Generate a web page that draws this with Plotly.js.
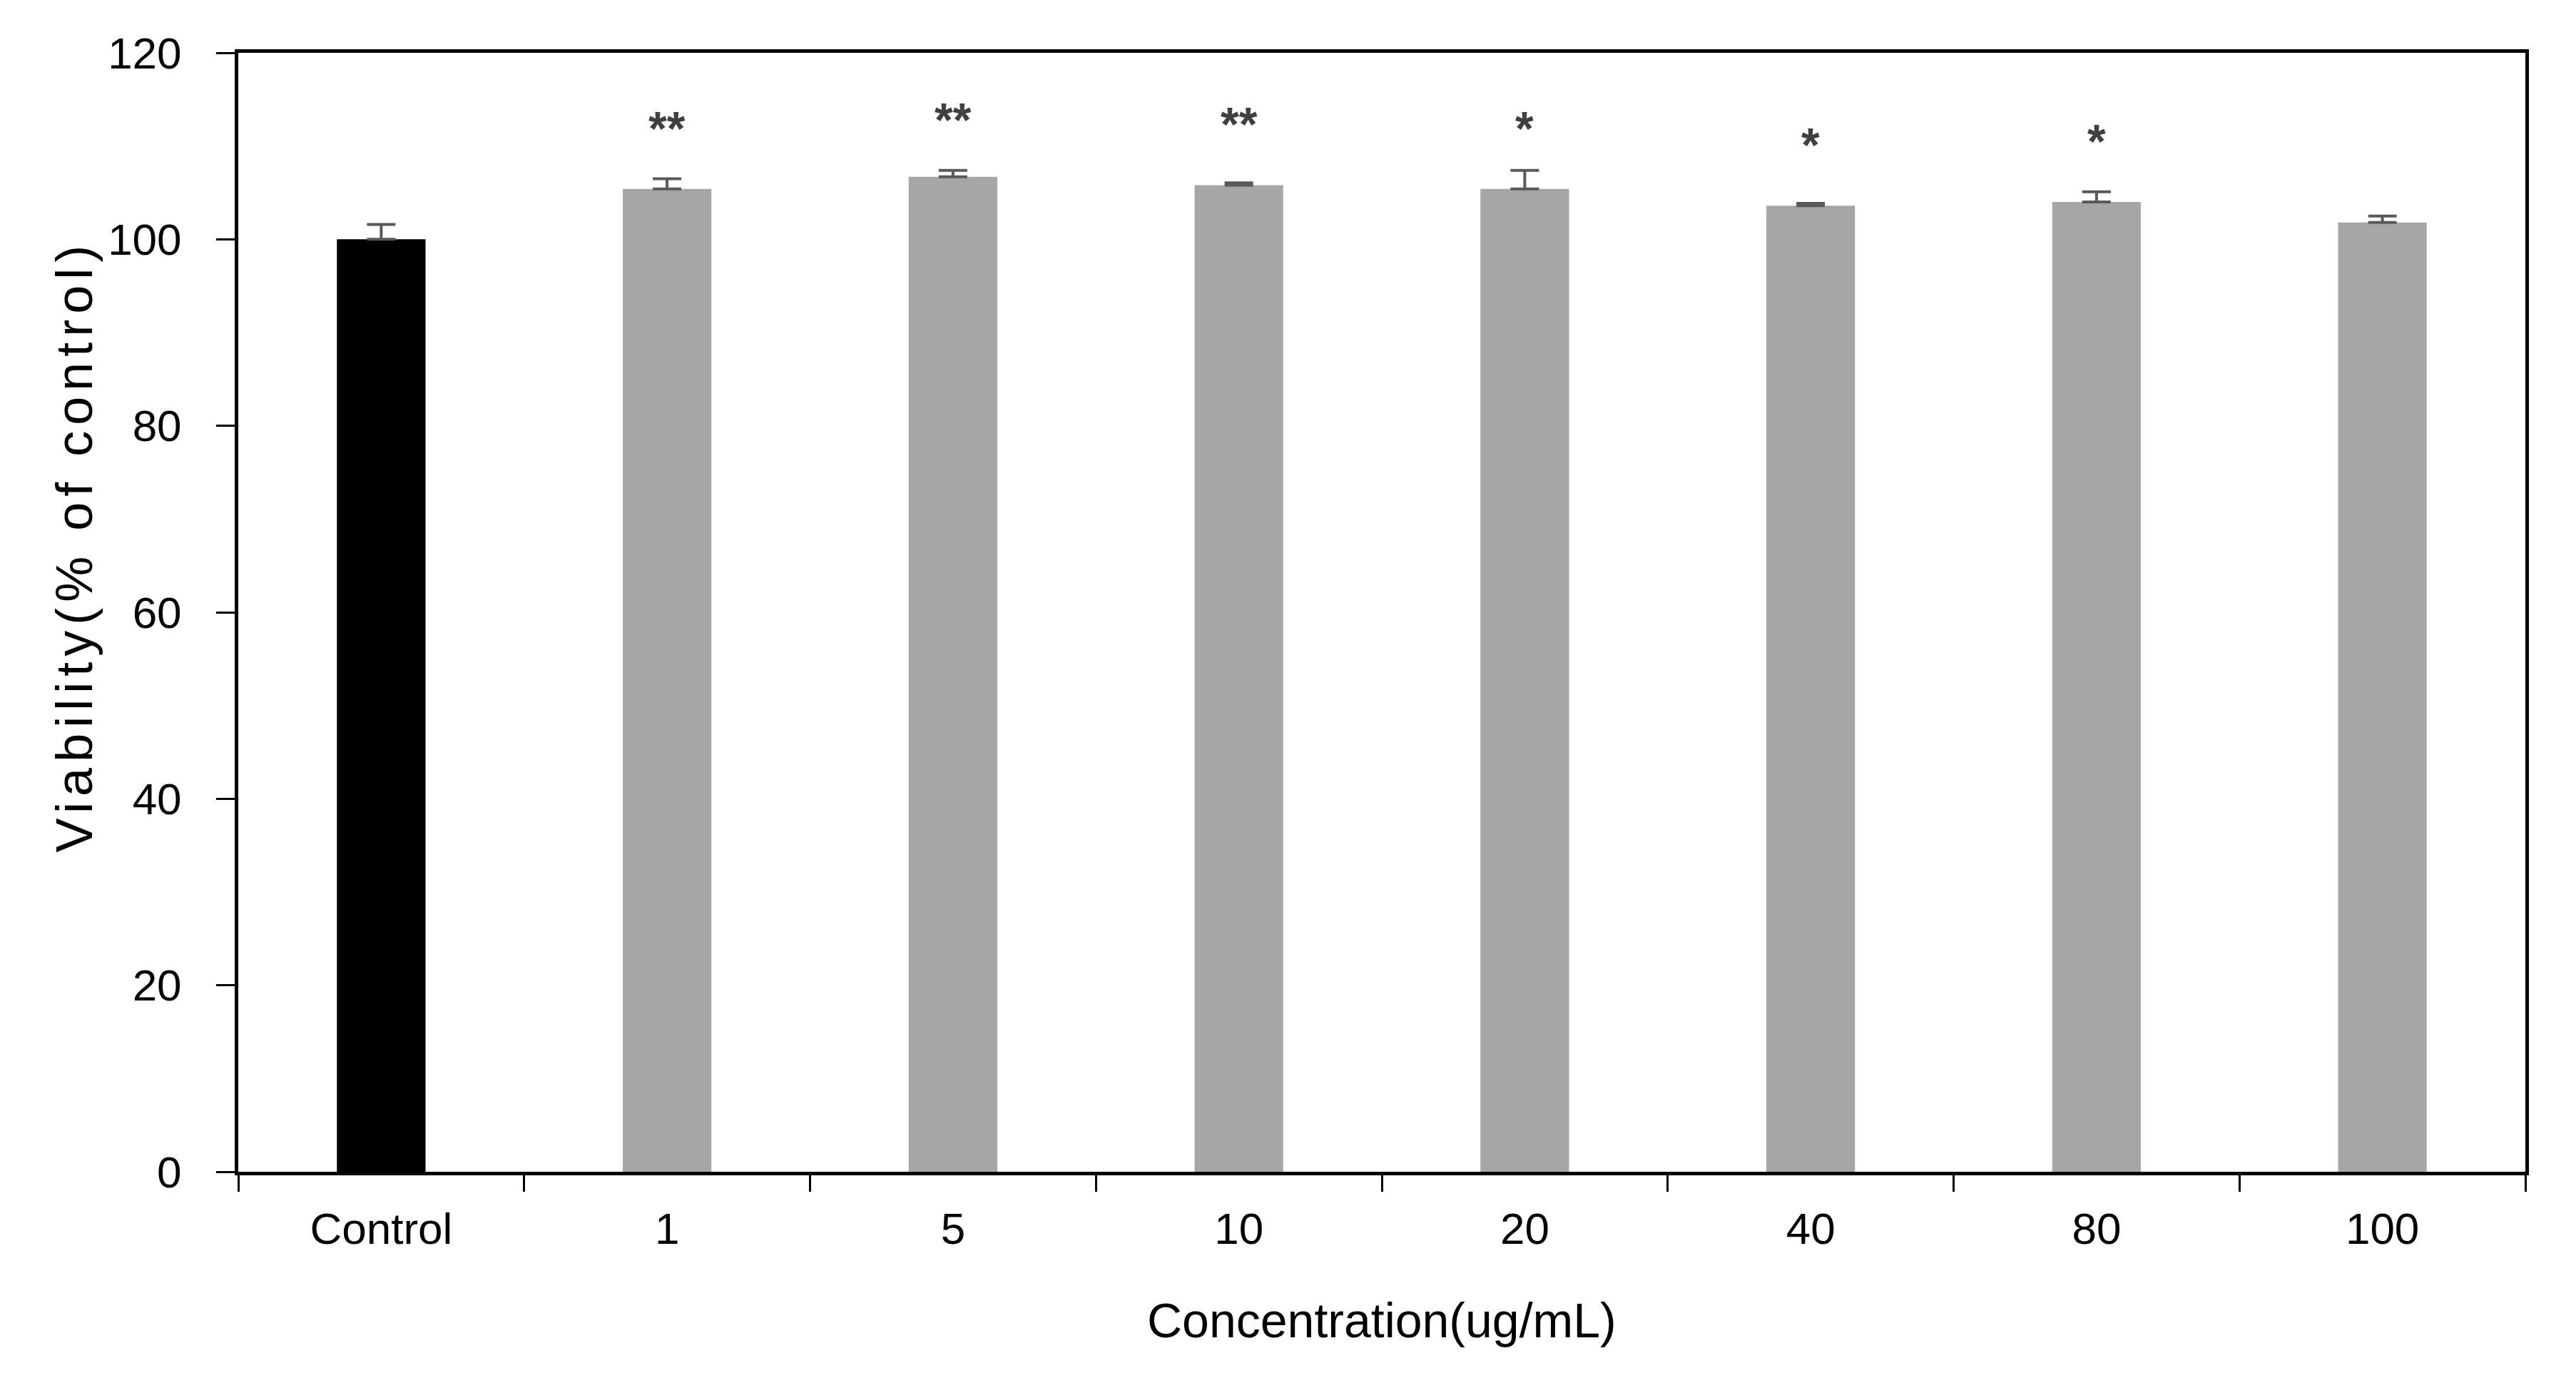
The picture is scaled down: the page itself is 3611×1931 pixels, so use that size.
<!DOCTYPE html>
<html>
<head>
<meta charset="utf-8">
<script src="https://cdn.plot.ly/plotly-3.0.1.min.js"></script>
<style>
  html, body { margin: 0; padding: 0; background: #fff; }
  #chart { width: 3611px; height: 1931px; }
  /* 원본 y축 제목은 자간이 넓음 */
  .annotation[data-index="0"] .annotation-text { letter-spacing: 8px; }
</style>
</head>
<body>
<div id="chart"></div>
<script>
// 농도별 세포 생존율 데이터
const categories = ['Control', '1', '5', '10', '20', '40', '80', '100'];
const viability = [100, 105.4, 106.7, 105.8, 105.4, 103.6, 104.0, 101.8];
const errorPlus = [1.6, 1.1, 0.7, 0.25, 2.0, 0.25, 1.1, 0.7];
const barColors = ['#000000', '#A6A6A6', '#A6A6A6', '#A6A6A6', '#A6A6A6', '#A6A6A6', '#A6A6A6', '#A6A6A6'];

// 유의성 표시 (별표) 및 그 높이
const sigLabels = ['', '**', '**', '**', '*', '*', '*', ''];
const sigHeights = [null, 112.6, 113.5, 113.0, 112.6, 110.8, 111.2, null];

const FONT = "'Liberation Sans', Arial, sans-serif";

const barTrace = {
  x: categories,
  y: viability,
  type: 'bar',
  marker: { color: barColors },
  error_y: {
    type: 'data',
    symmetric: false,
    array: errorPlus,
    arrayminus: errorPlus.map(() => 0),
    color: '#595959',
    thickness: 4,
    width: 20
  },
  hoverinfo: 'x+y'
};

// 별표 주석 (카테고리 인덱스 기준)
const sigAnnotations = [];
sigLabels.forEach((label, i) => {
  if (!label) return;
  sigAnnotations.push({
    x: i,
    y: sigHeights[i],
    xref: 'x',
    yref: 'y',
    text: label,
    showarrow: false,
    xanchor: 'center',
    yanchor: 'middle',
    yshift: -9,
    font: { family: FONT, size: 66, weight: 'bold', color: '#404040' }
  });
});

const layout = {
  width: 3611,
  height: 1931,
  margin: { l: 334, r: 71, t: 74, b: 289 },
  paper_bgcolor: '#FFFFFF',
  plot_bgcolor: '#FFFFFF',
  showlegend: false,
  bargap: 0.69,
  font: { family: FONT, size: 62, color: '#000000' },
  xaxis: {
    type: 'category',
    categoryorder: 'array',
    categoryarray: categories,
    range: [-0.5, categories.length - 0.5],
    showline: true,
    linecolor: '#000000',
    linewidth: 5,
    mirror: true,
    ticks: 'outside',
    tickson: 'boundaries',
    ticklen: 23,
    tickwidth: 3,
    tickcolor: '#000000',
    ticklabelstandoff: 22,
    tickangle: 0,
    showgrid: false,
    zeroline: false,
    tickfont: { family: FONT, size: 62, color: '#000000' }
  },
  yaxis: {
    range: [0, 120],
    dtick: 20,
    showline: true,
    linecolor: '#000000',
    linewidth: 5,
    mirror: true,
    ticks: 'outside',
    ticklen: 26,
    tickwidth: 3,
    tickcolor: '#000000',
    ticklabelstandoff: 36,
    showgrid: false,
    zeroline: false,
    tickfont: { family: FONT, size: 62, color: '#000000' }
  },
  annotations: [
    {
      text: 'Viability(% of control)',
      xref: 'paper', yref: 'paper',
      x: -0.0717, y: 0.559,
      xanchor: 'center', yanchor: 'middle',
      textangle: -90,
      showarrow: false,
      font: { family: FONT, size: 72, color: '#000000' }
    },
    {
      text: 'Concentration(ug/mL)',
      xref: 'paper', yref: 'paper',
      x: 0.5, y: -0.1327,
      xanchor: 'center', yanchor: 'middle',
      showarrow: false,
      font: { family: FONT, size: 68, color: '#000000' }
    }
  ].concat(sigAnnotations)
};

Plotly.newPlot('chart', [barTrace], layout, { displayModeBar: false, staticPlot: true });
</script>
</body>
</html>
